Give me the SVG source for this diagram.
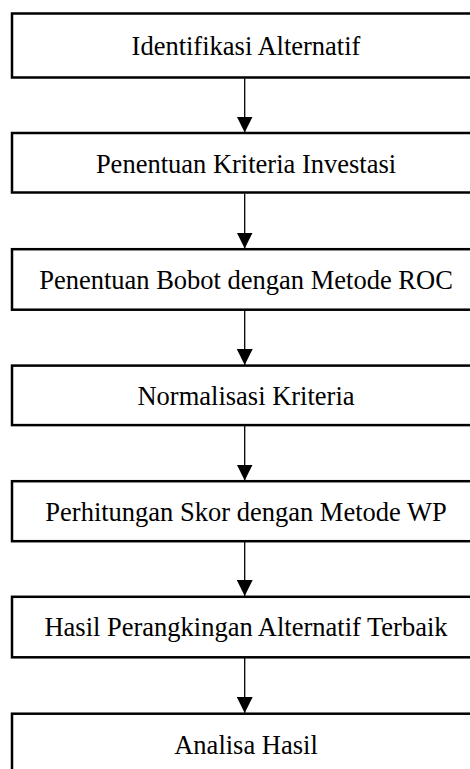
<svg xmlns="http://www.w3.org/2000/svg" width="470" height="769" viewBox="0 0 470 769">
  <style>
    .box { fill: #ffffff; stroke: #000000; stroke-width: 2.5; }
    .lbl { font-family: "Liberation Serif", "Times New Roman", serif; font-size: 26.5px; fill: #000000; text-anchor: middle; }
    .conn { stroke: #000000; stroke-width: 1.3; fill: none; marker-end: url(#arrow); }
  </style>
  <defs>
    <marker id="arrow" viewBox="0 0 16 16" refX="16" refY="8" markerWidth="16" markerHeight="16" markerUnits="userSpaceOnUse" orient="auto">
      <path d="M0,0 L16,8 L0,16 z" fill="#000000"/>
    </marker>
  </defs>
  <rect x="0" y="0" width="470" height="769" fill="#ffffff"/>
  <g id="connectors">
    <line class="conn" x1="244.7" y1="78.5" x2="244.7" y2="132.5"/>
    <line class="conn" x1="244.7" y1="193.5" x2="244.7" y2="248.5"/>
    <line class="conn" x1="244.7" y1="310.5" x2="244.7" y2="365"/>
    <line class="conn" x1="244.7" y1="426" x2="244.7" y2="480.5"/>
    <line class="conn" x1="244.7" y1="542" x2="244.7" y2="596"/>
    <line class="conn" x1="244.7" y1="658" x2="244.7" y2="713"/>
  </g>
  <g id="n1">
    <rect class="box" x="12" y="13.5" width="468" height="64"/>
    <text class="lbl" x="246" y="55">Identifikasi Alternatif</text>
  </g>
  <g id="n2">
    <rect class="box" x="12" y="133" width="468" height="59.5"/>
    <text class="lbl" x="246" y="173">Penentuan Kriteria Investasi</text>
  </g>
  <g id="n3">
    <rect class="box" x="12" y="249.2" width="468" height="60.5"/>
    <text class="lbl" x="246" y="289.3">Penentuan Bobot dengan Metode ROC</text>
  </g>
  <g id="n4">
    <rect class="box" x="12" y="365.6" width="468" height="59.5"/>
    <text class="lbl" x="246" y="404.5">Normalisasi Kriteria</text>
  </g>
  <g id="n5">
    <rect class="box" x="12" y="481.2" width="468" height="60"/>
    <text class="lbl" x="246" y="521">Perhitungan Skor dengan Metode WP</text>
  </g>
  <g id="n6">
    <rect class="box" x="12" y="596.8" width="468" height="60.5"/>
    <text class="lbl" x="246" y="635.5">Hasil Perangkingan Alternatif Terbaik</text>
  </g>
  <g id="n7">
    <rect class="box" x="12" y="713.7" width="468" height="60"/>
    <text class="lbl" x="246" y="753.5">Analisa Hasil</text>
  </g>
</svg>
